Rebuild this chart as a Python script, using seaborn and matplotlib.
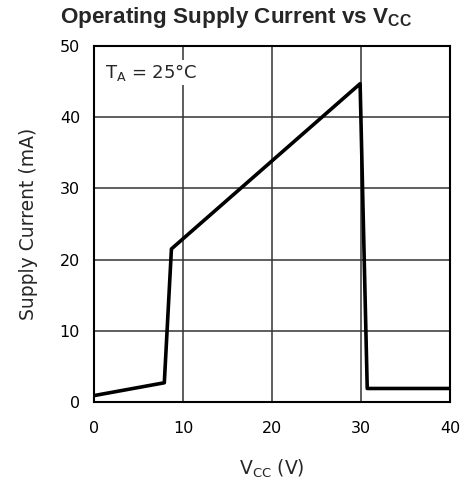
import pandas as pd
import matplotlib.pyplot as plt
import seaborn as sns

# data
vcc = [0, 7.9, 8.7, 29.9, 30.7, 40]
icc = [0.9, 2.7, 21.5, 44.7, 1.9, 1.9]

x_ticks = [0, 10, 20, 30, 40]
y_ticks = [0, 10, 20, 30, 40, 50]

data = pd.DataFrame({'Vcc': vcc, 'Icc': icc})

sns.set_style('white')
plt.rcParams['font.family'] = ['DejaVu Sans']

fig = plt.figure(figsize=(4.66, 4.82), dpi=100)
ax = fig.add_axes([94 / 466, 80 / 482, 356 / 466, 356 / 482])

sns.lineplot(data=data, x='Vcc', y='Icc', sort=False, color='black',
             linewidth=2.6, ax=ax, zorder=3)

ax.set_xlim(0, 40)
ax.set_ylim(0, 50)
ax.set_xticks(x_ticks)
ax.set_yticks(y_ticks)
ax.tick_params(length=0, labelsize=11.5, colors='black')
ax.tick_params(axis='x', pad=14)
ax.tick_params(axis='y', pad=10)
ax.grid(True, color='#333333', linewidth=1.1)
for s in ax.spines.values():
    s.set_color('black')
    s.set_linewidth(1.5)

ax.set_xlabel('V$_{\\mathregular{CC}}$ (V)', fontsize=13.5, labelpad=15)
ax.set_ylabel('Supply Current (mA)', fontsize=13.5, labelpad=16)

ax.text(1.2, 46.3, 'T$_{\\mathregular{A}}$ = 25°C', fontsize=13, va='center',
        ha='left', zorder=4,
        bbox=dict(facecolor='white', edgecolor='none', pad=1.5))

fig.text(236 / 466, 1 - 17 / 482, 'Operating Supply Current vs V$_{\\mathregular{CC}}$',
         ha='center', va='center', fontsize=16.2, fontweight='bold',
         family='Liberation Sans')

fig.savefig('out.png', dpi=100)
